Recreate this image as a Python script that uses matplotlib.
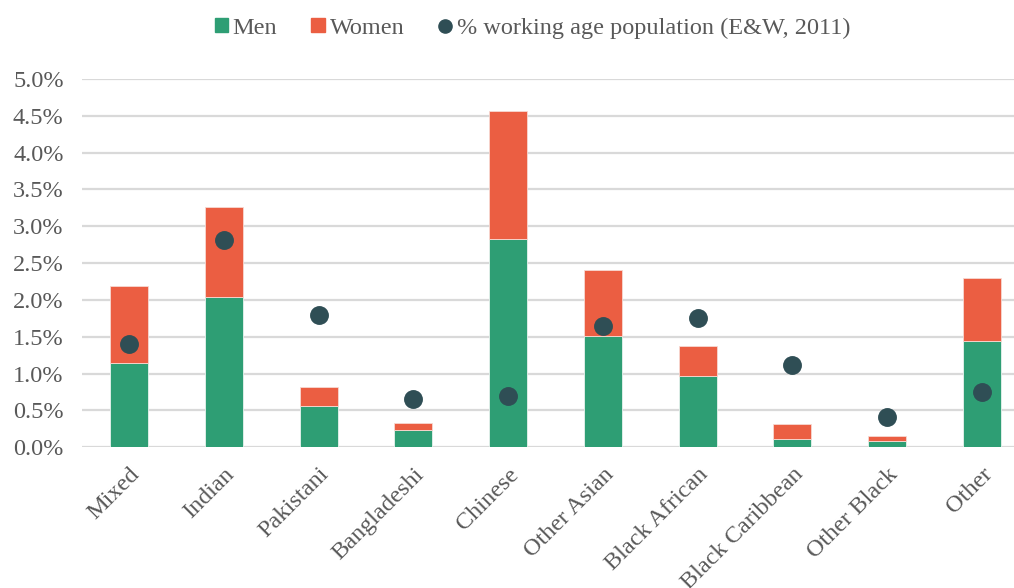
import numpy as np
import matplotlib
matplotlib.use("Agg")
import matplotlib.pyplot as plt
from matplotlib.patches import Patch
from matplotlib.lines import Line2D
from matplotlib.ticker import FuncFormatter, MultipleLocator

# valores (en %)
grupos = ["Mixed", "Indian", "Pakistani", "Bangladeshi", "Chinese",
          "Other Asian", "Black African", "Black Caribbean", "Other Black", "Other"]
hombres = [1.14, 2.04, 0.56, 0.23, 2.83, 1.51, 0.97, 0.11, 0.085, 1.44]
total = [2.19, 3.26, 0.82, 0.325, 4.56, 2.41, 1.38, 0.32, 0.16, 2.30]
mujeres = [t - h for t, h in zip(total, hombres)]
poblacion = [1.40, 2.82, 1.79, 0.66, 0.70, 1.64, 1.75, 1.12, 0.41, 0.75]

verde = "#2E9E74"
naranja = "#EB5E42"
punto = "#2F4E55"
gris = "#595959"

plt.rcParams["font.family"] = ["Liberation Serif", "DejaVu Serif"]

fig = plt.figure(figsize=(10.14, 5.88), dpi=100)
ax = fig.add_axes([81.7/1014, 1-447.3/588, 1-81.7/1014, (447.3-79)/588])

x = np.arange(len(grupos))
ax.bar(x, hombres, width=0.4, color=verde, edgecolor="#e8f3ee", linewidth=0.6, zorder=2)
ax.bar(x, mujeres, width=0.4, bottom=hombres, color=naranja, edgecolor="#f7d9d2", linewidth=0.6, zorder=2)
ax.scatter(x, poblacion, s=185, color=punto, zorder=3, linewidths=0)

ax.set_ylim(0, 5.0)
ax.set_xlim(-0.5, (1014-128.7)/94.8)
ax.yaxis.set_major_locator(MultipleLocator(0.5))
ax.yaxis.set_major_formatter(FuncFormatter(lambda v, p: f"{v:.1f}%"))
ax.grid(axis="y", color="#D9D9D9", linewidth=1.6, zorder=0)
ax.set_axisbelow(True)
for s in ax.spines.values():
    s.set_visible(False)

ax.tick_params(axis="y", length=0, pad=13, labelsize=17.5, labelcolor=gris)
ax.tick_params(axis="x", length=0, pad=12, labelsize=17.5, labelcolor=gris)
ax.set_xticks(x)
ax.set_xticklabels(grupos, rotation=45, ha="right", rotation_mode="anchor")

handles = [Patch(color=verde, label="Men"),
           Patch(color=naranja, label="Women"),
           Line2D([], [], marker="o", linestyle="", color=punto, markersize=9.5,
                  label="% working age population (E&W, 2011)")]
leg = fig.legend(handles=handles, loc="center", bbox_to_anchor=(0.525, 1-28/588), ncol=3,
                 frameon=False, fontsize=17.5, handlelength=0.55, handleheight=0.55,
                 handletextpad=0.2, columnspacing=1.4)
for t in leg.get_texts():
    t.set_color(gris)

fig.savefig("out.png", dpi=100)
